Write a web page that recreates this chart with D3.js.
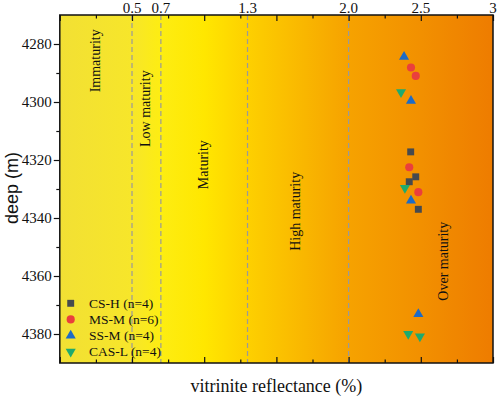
<!DOCTYPE html>
<html><head><meta charset="utf-8">
<script src="https://cdn.jsdelivr.net/npm/d3@7"></script>
<style>body{margin:0;background:#fff}svg{display:block}</style>
</head><body>
<svg id="c" width="498" height="397"></svg>
<script>
// ---- data ----
const seriesNames = ["CS-H (n=4)", "MS-M (n=6)", "SS-M (n=4)", "CAS-L (n=4)"];
const csH  = [[2.43, 4317.2], [2.465, 4325.8], [2.42, 4327.5], [2.483, 4337.0]];
const msM  = [[2.432, 4288.1], [2.465, 4291.0], [2.42, 4322.5], [2.483, 4331.1]];
const ssM  = [[2.384, 4284.4], [2.432, 4299.6], [2.432, 4334.0], [2.483, 4373.1]];
const casL = [[2.363, 4296.6], [2.39, 4329.6], [2.413, 4380.0], [2.494, 4380.8]];
const stageBounds = [0.5, 0.7, 1.3, 2.0];
const topTickLabels = [0.5, 0.7, 1.3, 2.0, 2.5, 3];
const topTickText = ["0.5", "0.7", "1.3", "2.0", "2.5", "3"];
const depthTicks = [4280, 4300, 4320, 4340, 4360, 4380];
const stageNames = ["Immaturity", "Low maturity", "Maturity", "High maturity", "Over maturity"];
const stageX = [0.244, 0.59, 0.99, 1.63, 2.654];
const stageDepth = [4285.8, 4302.3, 4321.6, 4337.7, 4354.9];

// ---- layout ----
const svg = d3.select("#c");
const L = 59.8, R = 493, T = 15, B = 363;
const x = d3.scaleLinear().domain([0, 3]).range([L, R]);
const y = d3.scaleLinear().domain([4270, 4390]).range([T, B]);
const serif = "'Liberation Serif','Times New Roman',serif";

// gradient background
const defs = svg.append("defs");
const grad = defs.append("linearGradient").attr("id", "bg").attr("x1", "0%").attr("x2", "100%");
[[0, "#f2e034"], [0.5, "#f7e62a"], [0.7, "#fded12"], [1.0, "#ffe700"], [1.3, "#fdd000"],
 [1.7, "#f9b600"], [2.0, "#f6a200"], [2.5, "#f29000"], [3.0, "#ee7c00"]]
  .forEach(([v, c]) => grad.append("stop").attr("offset", (v / 3 * 100) + "%").attr("stop-color", c));
svg.append("rect").attr("x", L).attr("y", T).attr("width", R - L).attr("height", B - T).attr("fill", "url(#bg)");

// dashed boundaries
svg.selectAll(".dash").data(stageBounds).join("line")
  .attr("x1", d => x(d)).attr("x2", d => x(d)).attr("y1", T).attr("y2", B)
  .attr("stroke", "#9a9a9a").attr("stroke-width", 1.2).attr("stroke-dasharray", "5,3");

// stage labels
svg.selectAll(".stage").data(stageNames).join("text")
  .attr("transform", (d, i) => `translate(${x(stageX[i]) + 5},${y(stageDepth[i])}) rotate(-90)`)
  .attr("text-anchor", "middle").attr("font-family", serif).attr("font-size", 14)
  .attr("fill", "#111").text(d => d);

// axes
const minorTicks = d3.range(0, 3.001, 0.25);
const topAx = d3.axisTop(x).tickValues(minorTicks).tickSizeInner(-3.5).tickSizeOuter(0).tickFormat("");
const gTop = svg.append("g").attr("transform", `translate(0,${T})`).call(topAx);
gTop.selectAll(".tick line").filter(d => Math.abs(d * 2 - Math.round(d * 2)) < 1e-6).attr("y2", 6);
const botAx = d3.axisBottom(x).tickValues(minorTicks).tickSizeInner(-3.5).tickSizeOuter(0).tickFormat("");
const gBot = svg.append("g").attr("transform", `translate(0,${B})`).call(botAx);
gBot.selectAll(".tick line").filter(d => Math.abs(d * 2 - Math.round(d * 2)) < 1e-6).attr("y2", -6);
[gTop, gBot].forEach(g => { g.select(".domain").remove(); g.selectAll(".tick line").attr("stroke", "#111").attr("stroke-width", 1.2); });

// top labels
svg.selectAll(".tl").data(topTickLabels).join("text")
  .attr("x", d => x(d)).attr("y", 12.5).attr("text-anchor", "middle")
  .attr("font-family", serif).attr("font-size", 15).attr("fill", "#111")
  .text((d, i) => topTickText[i]);

// left axis
const gL = svg.append("g").attr("transform", `translate(${L},0)`)
  .call(d3.axisLeft(y).tickValues(d3.range(4270, 4391, 10)).tickSizeInner(3.5).tickSizeOuter(0)
    .tickFormat(d => depthTicks.includes(d) ? d : ""));
gL.select(".domain").remove();
gL.selectAll(".tick line").attr("stroke", "#111").attr("stroke-width", 1.2)
  .filter(d => depthTicks.includes(d)).attr("x2", -6);
gL.selectAll(".tick line").filter(d => d === 4270 || d === 4390).remove();
gL.selectAll(".tick text").attr("x", -8).attr("font-family", serif).attr("font-size", 15).attr("fill", "#111");

// frame
svg.append("rect").attr("x", L).attr("y", T).attr("width", R - L).attr("height", B - T)
  .attr("fill", "none").attr("stroke", "#111").attr("stroke-width", 1.5);

// markers
const styles = [
  {data: csH, type: d3.symbolSquare, size: 48, color: "#464a4e", rot: 0},
  {data: msM, type: d3.symbolCircle, size: 52, color: "#ea3f3c", rot: 0},
  {data: ssM, type: d3.symbolTriangle, size: 44, color: "#1d6bc6", rot: 0},
  {data: casL, type: d3.symbolTriangle, size: 44, color: "#1faa6e", rot: 180}
];
styles.forEach(s => {
  svg.append("g").selectAll("path").data(s.data).join("path")
    .attr("d", d3.symbol().type(s.type).size(s.size))
    .attr("transform", d => `translate(${x(d[0])},${y(d[1])}) rotate(${s.rot})`)
    .attr("fill", s.color);
});

// legend
const lg = svg.append("g");
seriesNames.forEach((n, i) => {
  const s = styles[i];
  const yy = 303.3 + i * 16.1;
  lg.append("path").attr("d", d3.symbol().type(s.type).size(s.size))
    .attr("transform", `translate(70.7,${yy}) rotate(${s.rot})`).attr("fill", s.color);
  lg.append("text").attr("x", 89).attr("y", yy + 4.5).attr("font-family", serif)
    .attr("font-size", 13.5).attr("fill", "#111").text(n);
});

// axis titles
svg.append("text").attr("x", (L + R) / 2).attr("y", 392).attr("text-anchor", "middle")
  .attr("font-family", serif).attr("font-size", 18).attr("fill", "#111").text("vitrinite reflectance (%)");
svg.append("text").attr("transform", `translate(18,188) rotate(-90)`).attr("text-anchor", "middle")
  .attr("font-family", "'Liberation Sans',Arial,sans-serif").attr("font-size", 18).attr("fill", "#111").text("deep (m)");
</script>
</body></html>
